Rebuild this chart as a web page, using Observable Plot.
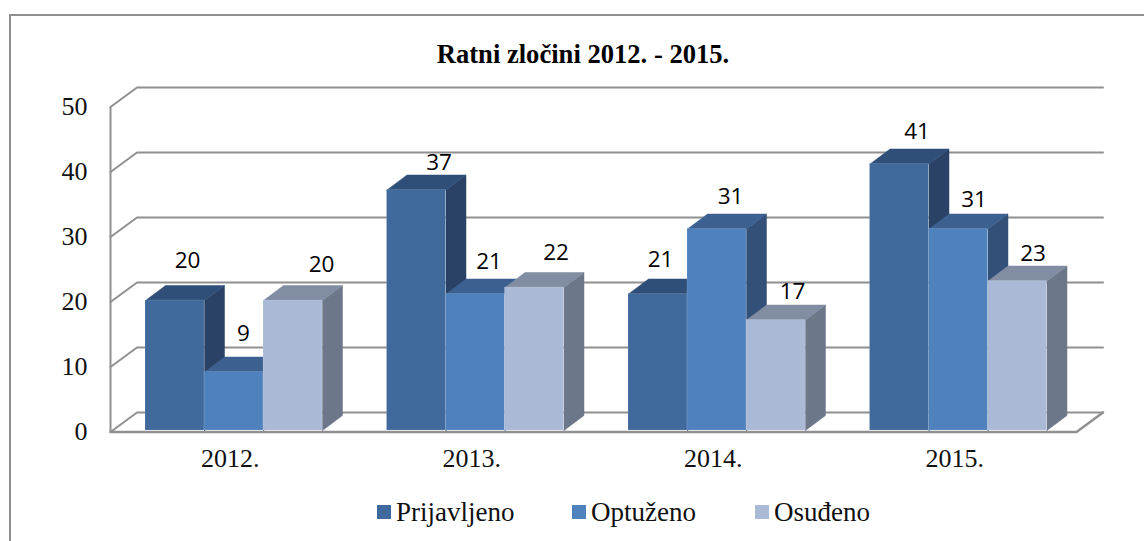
<!DOCTYPE html>
<html>
<head>
<meta charset="utf-8">
<script src="https://cdn.jsdelivr.net/npm/d3@7"></script>
<script src="https://cdn.jsdelivr.net/npm/@observablehq/plot@0.6"></script>
<style>
html,body{margin:0;padding:0;background:#fff;overflow:hidden}
#page{position:relative;width:1144px;height:541px;overflow:hidden;background:#fff}
#frame{position:absolute;left:9px;top:14px;width:1200px;height:600px;border:2px solid #8f8f8f;box-sizing:border-box}
#title{position:absolute;left:0;top:40px;width:1166px;text-align:center;font:bold 26.6px/28px "Liberation Serif",serif;color:#000}
#plot{position:absolute;left:0;top:70px}
#legend{position:absolute;left:0;top:480px;width:1144px;height:61px;font:27px/1 "Liberation Serif",serif;color:#111}
.item{position:absolute;top:19px;display:flex;align-items:center;height:26px;white-space:nowrap}
.swatch{display:inline-block;width:14px;height:14px;margin-right:5px}
</style>
</head>
<body>
<div id="page">
  <div id="frame"></div>
  <div id="title">Ratni zločini 2012. - 2015.</div>
  <div id="plot"></div>
  <div id="legend"></div>
</div>
<script>
const categories = ["2012.", "2013.", "2014.", "2015."];
const seriesNames = ["Prijavljeno", "Optuženo", "Osuđeno"];
const prijavljeno = [20, 37, 21, 41];
const optuzeno = [9, 21, 31, 31];
const osudeno = [20, 22, 17, 23];
const yTicks = [0, 10, 20, 30, 40, 50];

// Styling and layout, kept apart from the data
const frontColors = ["#40699c", "#4f81bd", "#aab9d6"];
const topColors = ["#2f4f78", "#3c6090", "#818da3"];
const sideColors = ["#294265", "#325078", "#6c7789"];
const labelNudges = [
  [[12.5,-41.5],[9.5,-40],[28.5,-37.5]],
  [[22.5,-29],[13.5,-34],[21.5,-36.5]],
  [[2.5,-36],[13.5,-34],[16.5,-30]],
  [[17.5,-34],[15.5,-31],[15.5,-29]]
];
const unitPx = 241.5, valuePx = 6.5;
const wallDx = 26.5 / unitPx, wallDy = 19.5 / valuePx;
const barDx = 20 / unitPx, barDy = 15 / valuePx;
const barStart = 35 / unitPx, barWidth = 59 / unitPx, barLift = 1.5 / valuePx;
const gray = "#909090";

const series = [prijavljeno, optuzeno, osudeno];
const marks = [];

// back wall gridlines with their oblique return to the front plane
for (const v of yTicks) {
  marks.push(Plot.line([[0, v], [wallDx, v + wallDy], [categories.length + wallDx, v + wallDy]],
    {x: d => d[0], y: d => d[1], stroke: gray, strokeWidth: 2}));
}
// front axis and floor
marks.push(Plot.ruleX([0], {y1: 0, y2: 50, stroke: gray, strokeWidth: 2}));
marks.push(Plot.line([[0, 0], [categories.length, 0], [categories.length + wallDx, wallDy]],
  {x: d => d[0], y: d => d[1], stroke: gray, strokeWidth: 2.5}));

// bars painted left to right: side, top, front
categories.forEach((c, i) => {
  series.forEach((vals, s) => {
    const v = vals[i];
    const x1 = i + barStart + s * barWidth, x2 = x1 + barWidth;
    const y0 = barLift, y1 = v + barLift;
    marks.push(Plot.line(
      [[x2, y0], [x2, y1], [x2 + barDx, y1 + barDy], [x2 + barDx, y0 + barDy], [x2, y0]],
      {x: d => d[0], y: d => d[1], fill: sideColors[s], stroke: sideColors[s], strokeWidth: 0.5}));
    marks.push(Plot.line(
      [[x1, y1], [x2, y1], [x2 + barDx, y1 + barDy], [x1 + barDx, y1 + barDy], [x1, y1]],
      {x: d => d[0], y: d => d[1], fill: topColors[s], stroke: topColors[s], strokeWidth: 0.5}));
    marks.push(Plot.rect([{c, v}], {
      x1: () => x1, x2: () => x2, y1: () => y0, y2: () => y1,
      fill: frontColors[s], stroke: "#ffffff", strokeOpacity: 0.12, strokeWidth: 1
    }));
  });
});

// value labels
categories.forEach((c, i) => {
  series.forEach((vals, s) => {
    const v = vals[i];
    const [dx, dy] = labelNudges[i][s];
    marks.push(Plot.text([v], {
      x: () => i + barStart + (s + 0.5) * barWidth, y: d => d, text: d => String(d),
      dx, dy, fontFamily: "'Open Sans'", fontSize: 22.5, fill: "#000"
    }));
  });
});

marks.push(Plot.axisY({
  ticks: yTicks, tickSize: 0, tickPadding: 23, label: null,
  fontFamily: "'Liberation Serif'", fontSize: 26, fill: "#111"
}));
marks.push(Plot.axisX({
  ticks: categories.map((c, i) => i + 0.5),
  tickFormat: d => categories[Math.round(d - 0.5)],
  tickSize: 0, tickPadding: 17, label: null, dx: -1,
  fontFamily: "'Liberation Serif'", fontSize: 26, fill: "#111"
}));

const chart = Plot.plot({
  width: 1144, height: 410,
  marginLeft: 110, marginRight: 68, marginTop: 36.5, marginBottom: 48.5,
  x: {domain: [0, categories.length]},
  y: {domain: [0, 50]},
  style: {background: "transparent", overflow: "visible"},
  marks
});
document.getElementById("plot").appendChild(chart);

const legendLeft = [377, 572, 755];
const legend = document.getElementById("legend");
seriesNames.forEach((name, s) => {
  const item = document.createElement("div");
  item.className = "item";
  item.style.left = legendLeft[s] + "px";
  const sw = document.createElement("span");
  sw.className = "swatch";
  sw.style.background = frontColors[s];
  item.appendChild(sw);
  item.appendChild(document.createTextNode(name));
  legend.appendChild(item);
});
</script>
</body>
</html>
